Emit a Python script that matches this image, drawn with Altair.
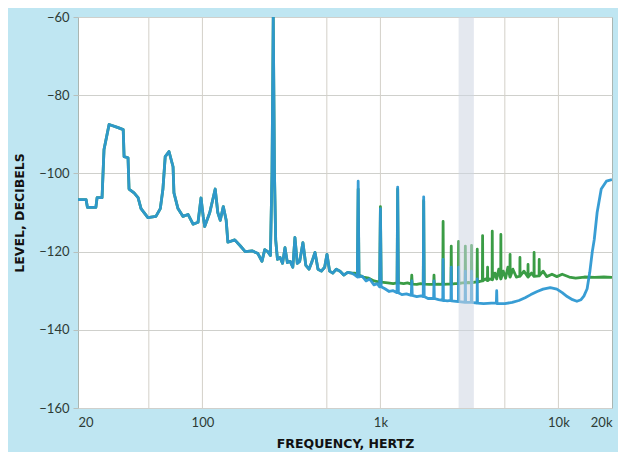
import altair as alt
import pandas as pd

# Shared low-frequency portion (both traces coincide)
shared_f = [20, 22.2, 22.6, 25.2, 25.6, 27.3, 28.0, 29.9, 33.6, 35.9, 36.3, 38.2, 38.7, 41.3, 43.5,
            45.2, 49.4, 54.8, 58, 60, 61.8, 64.9, 68.4, 69.2, 72.9, 77.8, 83, 88.6, 94.5, 98.2,
            101, 103, 110, 118, 122, 126, 131, 136, 139, 152, 163, 174, 190, 205, 216, 224, 233,
            241, 246, 250, 254, 258, 264, 273, 282, 291, 300, 311, 322, 331, 341, 352, 367, 381,
            397, 413, 429, 446, 466, 486, 501, 518, 540, 565, 593, 622, 655, 690]
shared_db = [-106.7, -106.7, -108.7, -108.7, -106.2, -106.2, -93.9, -87.5, -88.3, -88.8, -95.7, -96,
             -104, -105, -106.2, -109, -111.3, -111, -109, -104, -95.7, -94.4, -98.3, -105, -109,
             -111, -110.5, -113, -112.5, -106.3, -111, -113.6, -110, -104, -110, -112, -108.5,
             -112, -117.6, -117, -118.5, -120, -119.8, -120.5, -122.5, -119.5, -120, -121, -100,
             -60, -100, -117, -122, -121.5, -123, -119, -122.8, -122.5, -124, -116.4, -123,
             -122.5, -117.7, -123.5, -124.5, -122.5, -120.2, -124.5, -125, -124, -120.7, -125,
             -125.5, -124.5, -125, -126, -125.3, -125.5]

blue_f = [720, 742, 750, 758, 790, 830, 870, 920, 960, 990, 1000, 1010, 1060, 1120, 1180, 1240, 1250,
          1262, 1320, 1400, 1490, 1500, 1510, 1600, 1690, 1740, 1750, 1762, 1850, 1990, 2000, 2010,
          2120, 2240, 2250, 2260, 2380, 2490, 2500, 2510, 2740, 2750, 2760, 2990, 3000, 3010, 3240,
          3250, 3260, 3490, 3500, 3510, 3800, 4200, 4480, 4500, 4520, 5000, 5500, 6000, 6500, 7000,
          7600, 8200, 9000, 9800, 10500, 11200, 12000, 12700, 13400, 13900, 14500, 15000, 15500,
          15900, 16500, 17400, 18600, 20000]
blue_db = [-126, -126.5, -102, -126.5, -126.3, -127.5, -127, -128.5, -128.2, -129, -109, -129, -129.5,
           -130.2, -130, -130.5, -103.5, -130.5, -131, -130.8, -131.2, -127.5, -131.2, -131.5, -131.3,
           -131.5, -106, -131.5, -132, -132, -127.5, -132, -132.3, -132.5, -122, -132.5, -132.6,
           -132.5, -124, -132.6, -132.8, -124, -132.8, -133, -125, -133, -133, -125, -133, -133.2,
           -127, -133.2, -133.3, -133.2, -133.2, -130, -133.3, -133.3, -133, -132.5, -131.8, -131,
           -130.2, -129.6, -129.2, -129.6, -130.5, -131.5, -132.3, -132.7, -132.3, -131.4, -129.5,
           -125.3, -120, -116.9, -110, -104, -102, -101.6]

green_f = [720, 742, 750, 758, 800, 860, 920, 990, 1000, 1010, 1100, 1180, 1240, 1250, 1262, 1350, 1420,
           1490, 1500, 1510, 1600, 1680, 1740, 1750, 1762, 1880, 1990, 2000, 2010, 2120, 2240, 2250,
           2260, 2380, 2490, 2500, 2510, 2620, 2740, 2750, 2760, 2880, 2990, 3000, 3010, 3120, 3240,
           3250, 3260, 3380, 3490, 3500, 3510, 3620, 3740, 3750, 3760, 3880, 3990, 4000, 4010, 4120,
           4240, 4250, 4260, 4400, 4500, 4620, 4740, 4750, 4760, 4900, 5050, 5200, 5340, 5350, 5360,
           5550, 5800, 6070, 6080, 6090, 6400, 6740, 6750, 6760, 7050, 7290, 7300, 7310, 7790, 7800,
           7810, 8200, 8600, 9200, 9800, 10500, 11500, 12500, 14000, 16000, 18000, 20000]
green_db = [-125.5, -126, -104, -126, -126.5, -126.8, -127.5, -127.8, -108.5, -127.8, -128, -128.2,
            -128, -104, -128, -128.2, -128, -128.3, -126, -128.3, -128.4, -128.2, -128.3, -107,
            -128.3, -128.4, -128.4, -126, -128.4, -128.3, -128.4, -112.3, -128.4, -128.3, -128.3,
            -118.6, -128.3, -128.2, -128.2, -117.4, -128.2, -128, -128, -118.6, -128, -127.9, -128,
            -118.4, -128, -127.8, -127.8, -119.4, -127.8, -127.6, -127.5, -115.9, -127.5, -127,
            -127.4, -124, -127.4, -127, -127.2, -114.8, -127.2, -125.5, -127, -124.5, -127, -115.6,
            -127, -125, -126.8, -124, -126.5, -120.7, -126.5, -124.5, -126.5, -126.3, -121.5,
            -126.3, -125, -126.5, -123.3, -126.5, -125.5, -126.3, -120.2, -126.3, -126.2, -122,
            -126.2, -125, -126.4, -125.8, -126.4, -125.8, -126.5, -126.8, -126.5, -126.6, -126.5,
            -126.6]

x_ticks = [20, 100, 1000, 10000, 20000]
x_tick_labels = ["20", "100", "1k", "10k", "20k"]
x_grid = [50, 100, 500, 1000, 5000, 10000]
y_ticks = [-60, -80, -100, -120, -140, -160]
band = [2750, 3350]

blue_df = pd.DataFrame({"f": shared_f + blue_f, "db": shared_db + blue_db})
green_df = pd.DataFrame({"f": shared_f + green_f, "db": shared_db + green_db})
grid_df = pd.DataFrame({"f": x_grid})
band_df = pd.DataFrame({"f1": [band[0]], "f2": [band[1]]})

label_expr = " : ".join(
    [f"datum.value == {v} ? '{l}'" for v, l in zip(x_ticks, x_tick_labels)]) + " : ''"

xscale = alt.Scale(type="log", domain=[20, 20000], nice=False)
yscale = alt.Scale(domain=[-160, -60], nice=False, zero=False)

xaxis = alt.Axis(values=x_ticks, labelExpr=label_expr, grid=False, ticks=False, domain=False,
                 title="FREQUENCY, HERTZ", labelPadding=8, titlePadding=8)
yaxis = alt.Axis(values=y_ticks, grid=True, gridColor="#cfd0cc", tickSize=5, tickColor="#b8c0bc",
                 domain=False, title="LEVEL, DECIBELS", labelPadding=4, titlePadding=12)

grid = alt.Chart(grid_df).mark_rule(color="#d3d0c8", strokeWidth=1).encode(
    x=alt.X("f:Q", scale=xscale, axis=xaxis))

green = alt.Chart(green_df).mark_line(color="#3a9c45", strokeWidth=2.8, strokeJoin="round",
                                      clip=True).encode(
    x=alt.X("f:Q", scale=xscale, axis=xaxis),
    y=alt.Y("db:Q", scale=yscale, axis=yaxis))

blue = alt.Chart(blue_df).mark_line(color="#2d98d2", strokeWidth=2.8, strokeJoin="round",
                                    clip=True, opacity=0.95).encode(
    x=alt.X("f:Q", scale=xscale, axis=xaxis),
    y=alt.Y("db:Q", scale=yscale, axis=yaxis))

bandl = alt.Chart(band_df).mark_rect(color="#cdd6e2", opacity=0.55).encode(
    x=alt.X("f1:Q", scale=xscale, axis=xaxis), x2="f2:Q",
    y=alt.value(0), y2=alt.value(391))

chart = alt.layer(grid, green, blue, bandl).properties(
    width=534, height=391,
    background="#bfe6f2",
    padding={"left": 70, "top": 9, "right": 6, "bottom": 44},
    autosize=alt.AutoSizeParams(type="none"),
).configure_view(
    fill="white", stroke="#aab6b2", strokeWidth=1
).configure_axis(
    labelFont="Lato", labelFontSize=13, labelColor="#2d3b35",
    titleFont="DejaVu Sans", titleFontSize=12.5, titleFontWeight="bold", titleColor="#111111"
)

chart.save("out.html", embed_options={"renderer": "svg", "actions": False})
